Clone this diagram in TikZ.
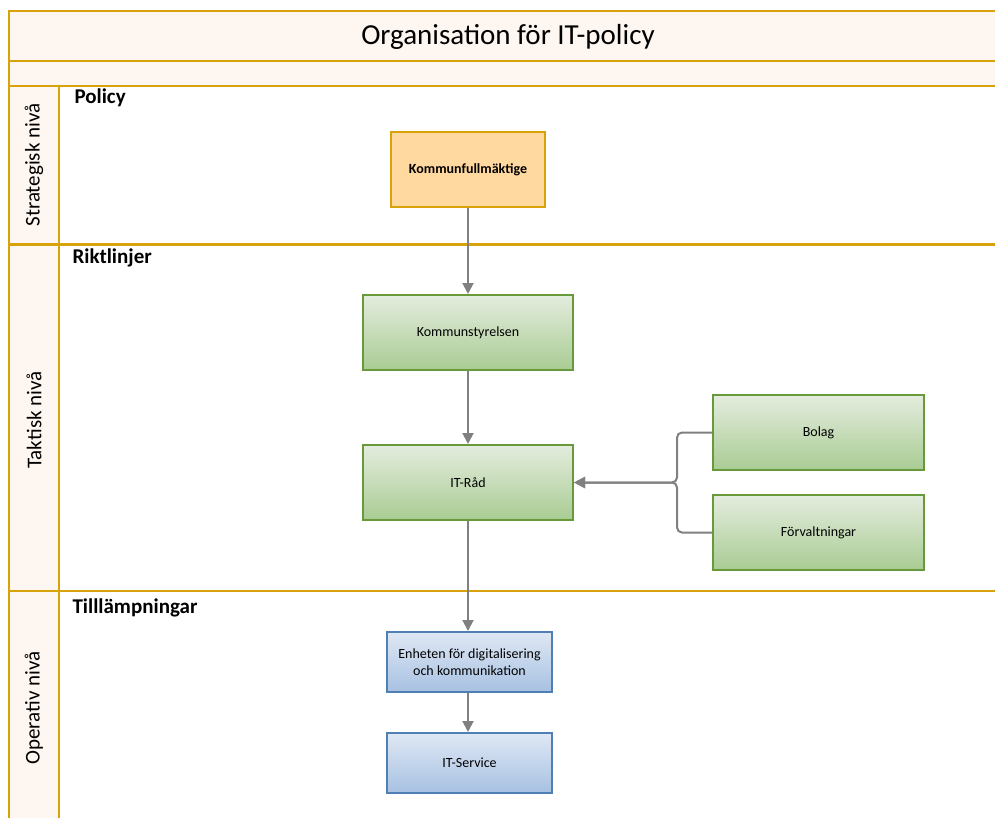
\documentclass[tikz,border=0pt]{standalone}
\usepackage{fontspec}
\setmainfont{Carlito}
\usetikzlibrary{arrows.meta}
\definecolor{lanegold}{HTML}{D8A20A}
\definecolor{bandfill}{HTML}{FEF7F1}
\definecolor{kfill}{HTML}{FFD9A0}
\definecolor{gtop}{HTML}{E4ECDE}
\definecolor{gbot}{HTML}{A9CC93}
\definecolor{gborder}{HTML}{68993A}
\definecolor{btop}{HTML}{DFE8F4}
\definecolor{bbot}{HTML}{A7C1E2}
\definecolor{bborder}{HTML}{4F7FB5}
\definecolor{conngray}{HTML}{808080}
\tikzset{
  lane/.style={draw=lanegold, line width=2.6pt},
  greenbox/.style={draw=gborder, line width=2pt, top color=gtop, bottom color=gbot, inner sep=0pt, align=center, font=\fontsize{14}{16.5}\selectfont},
  bluebox/.style={draw=bborder, line width=2pt, top color=btop, bottom color=bbot, inner sep=0pt, align=center, font=\fontsize{14}{16.5}\selectfont},
  goldbox/.style={draw=lanegold, line width=2pt, fill=kfill, inner sep=0pt, align=center, font=\bfseries\fontsize{14}{16.5}\selectfont},
  conn/.style={draw=conngray, line width=2pt, -{Triangle[length=11pt,width=11pt]}},
  lanelabel/.style={rotate=90, font=\fontsize{21}{24}\selectfont},
  lanehead/.style={anchor=west, font=\bfseries\fontsize{21}{24}\selectfont},
}
\begin{document}
\begin{tikzpicture}[x=1pt,y=-1pt]
\useasboundingbox (0,0) rectangle (995,818);
% bands
\fill[bandfill] (9,11) rectangle (1000,86);
\fill[bandfill] (9,86) rectangle (59,830);
\draw[lane] (1000,11) -- (9,11) -- (9,830);
\draw[lane] (9,61) -- (1000,61);
\draw[lane] (9,86) -- (1000,86);
\draw[lane] (9,244.5) -- (1000,244.5);
\draw[lane] (9,591) -- (1000,591);
\draw[lane] (59,86) -- (59,830);
% title
\node[font=\fontsize{29}{33}\selectfont] (title) at (508,37) {Organisation för IT-policy};
% lane labels
\node[lanelabel] (lstrat) at (34,165) {Strategisk nivå};
\node[lanelabel] (ltakt) at (34,420) {Taktisk nivå};
\node[lanelabel] (lop) at (34,708) {Operativ nivå};
\node[lanehead] (hpol) at (71,98) {Policy};
\node[lanehead] (hrikt) at (69,258) {Riktlinjer};
\node[lanehead] (htill) at (69,608) {Tilllämpningar};
% boxes
\node[goldbox, minimum width=154pt, minimum height=75pt] (kf) at (468,169.5) {Kommunfullmäktige};
\node[greenbox, minimum width=210pt, minimum height=75pt] (ks) at (468,332.5) {Kommunstyrelsen};
\node[greenbox, minimum width=210pt, minimum height=75pt] (itr) at (468,482.5) {IT-Råd};
\node[greenbox, minimum width=211pt, minimum height=75pt] (bol) at (818.5,432.5) {Bolag};
\node[greenbox, minimum width=211pt, minimum height=75pt] (forv) at (818.5,532.5) {Förvaltningar};
\node[bluebox, minimum width=165pt, minimum height=60pt] (enh) at (469.5,662) {Enheten för digitalisering\\och kommunikation};
\node[bluebox, minimum width=165pt, minimum height=60pt] (its) at (469.5,763) {IT-Service};
% connectors
\draw[conn] (kf.south) -- (kf.south |- ks.north);
\draw[conn] (ks) -- (itr);
\draw[conn] (itr.south) -- (itr.south |- enh.north);
\draw[conn] (enh.south -| itr.south) -- (its.north -| itr.south);
\coordinate (bus) at (677,482.5);
\draw[conn, rounded corners=5pt] (bol.west) -| (bus) -- (itr.east);
\draw[conn, rounded corners=5pt] (forv.west) -| (bus) -- (itr.east);
\end{tikzpicture}
\end{document}
